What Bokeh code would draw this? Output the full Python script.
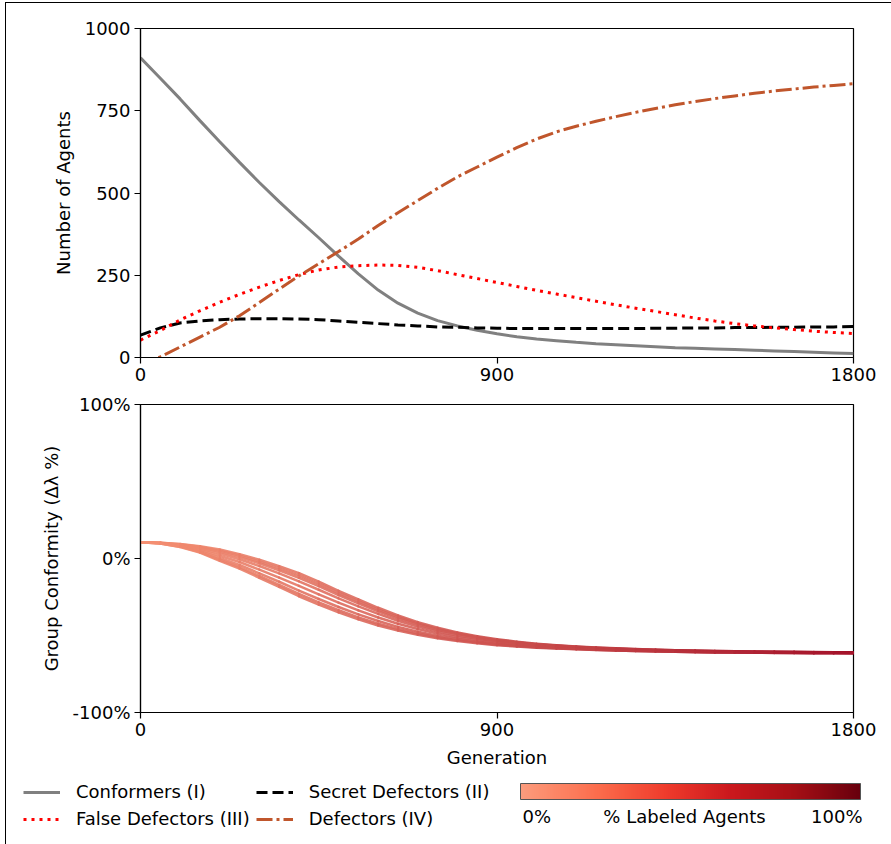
from bokeh.plotting import figure
from bokeh.layouts import column, row
from bokeh.models import (ColumnDataSource, FixedTicker, Range1d, Legend, LegendItem,
                          ColorBar, LinearColorMapper, Label)
from bokeh.palettes import Reds256
from bokeh.embed import file_html
from bokeh.resources import INLINE

# ---------------- data ----------------
generations = [0, 50, 100, 150, 200, 250, 300, 350, 400, 450, 500, 550, 600, 650,
               700, 750, 800, 850, 900, 950, 1000, 1050, 1100, 1150, 1200, 1250,
               1300, 1350, 1400, 1450, 1500, 1550, 1600, 1650, 1700, 1750, 1800]

conformers = [911, 849, 786, 720, 656, 593, 532, 474, 418, 364, 308, 254, 205, 165,
              135, 112, 96, 83, 72, 63, 56, 51, 46, 42, 39, 36,
              33, 30, 28, 26, 24, 22, 20, 18, 16, 14, 12]
secret_defectors = [68, 90, 105, 111, 115, 117, 118, 118, 117, 115, 111, 107, 103, 99,
                    96, 93, 92, 90, 89, 88, 88, 88, 88, 88, 88, 88,
                    89, 89, 90, 90, 91, 91, 92, 92, 93, 93, 94]
false_defectors = [53, 82, 114, 142, 168, 192, 214, 234, 252, 266, 275, 279, 281, 280,
                   274, 264, 252, 240, 228, 216, 204, 193, 182, 171, 160, 150,
                   140, 130, 120, 111, 103, 96, 90, 85, 80, 76, 73]
defectors = [-27, 2, 32, 62, 92, 127, 167, 208, 248, 285, 322, 360, 401, 440,
             477, 514, 549, 579, 609, 638, 664, 686, 703, 718, 732, 745,
             757, 768, 778, 787, 795, 803, 810, 816, 822, 827, 832]

# group conformity (%) of runs with increasing shares of labeled agents
conformity_run_1 = [10.5, 10.2, 9.4, 8.0, 5.8, 2.8, -0.8, -5.0, -9.5, -15.0, -21.0, -26.5,
                    -32.0, -37.0, -41.3, -45.0, -48.0, -50.5, -52.5, -54.0, -55.3, -56.3,
                    -57.1, -57.8, -58.3, -58.8, -59.2, -59.5, -59.8, -60.0, -60.2, -60.4,
                    -60.5, -60.6, -60.7, -60.8, -60.9]
conformity_run_2 = [10.5, 10.2, 9.2, 7.6, 5.1, 1.9, -2.0, -6.4, -11.0, -16.5, -22.4, -27.8,
                    -33.2, -38.0, -42.1, -45.7, -48.6, -51.0, -52.9, -54.3, -55.6, -56.5,
                    -57.3, -58.0, -58.5, -58.9, -59.3, -59.6, -59.9, -60.1, -60.3, -60.5,
                    -60.6, -60.7, -60.8, -60.9, -61.0]
conformity_run_3 = [10.5, 10.1, 9.0, 7.2, 4.3, 0.9, -3.1, -7.7, -12.5, -18.0, -23.8, -29.1,
                    -34.3, -39.0, -42.9, -46.4, -49.1, -51.4, -53.3, -54.6, -55.8, -56.7,
                    -57.5, -58.1, -58.6, -59.1, -59.4, -59.7, -60.0, -60.2, -60.4, -60.6,
                    -60.7, -60.8, -60.9, -60.9, -61.0]
conformity_run_4 = [10.5, 10.1, 8.7, 6.5, 3.2, -0.5, -4.9, -9.7, -14.8, -20.3, -25.9, -31.1,
                    -36.0, -40.4, -44.2, -47.4, -50.0, -52.1, -53.8, -55.1, -56.2, -57.1,
                    -57.8, -58.4, -58.8, -59.3, -59.6, -59.9, -60.2, -60.4, -60.5, -60.7,
                    -60.8, -60.9, -61.0, -61.1, -61.2]
conformity_run_5 = [10.5, 10.0, 8.4, 5.7, 1.8, -2.3, -7.2, -12.4, -17.8, -23.3, -28.7, -33.7,
                    -38.3, -42.4, -45.8, -48.7, -51.1, -53.0, -54.6, -55.8, -56.7, -57.5,
                    -58.2, -58.7, -59.1, -59.5, -59.9, -60.1, -60.4, -60.6, -60.7, -60.8,
                    -60.9, -61.0, -61.1, -61.2, -61.3]
conformity_run_6 = [10.5, 9.9, 8.0, 4.9, 0.3, -4.2, -9.6, -15.1, -20.8, -26.3, -31.5, -36.3,
                    -40.6, -44.4, -47.5, -50.1, -52.2, -54.0, -55.4, -56.4, -57.3, -58.0,
                    -58.5, -59.0, -59.4, -59.8, -60.1, -60.3, -60.6, -60.8, -60.9, -61.0,
                    -61.1, -61.2, -61.3, -61.3, -61.4]
conformity_run_7 = [10.5, 9.8, 7.7, 4.2, -0.8, -5.6, -11.3, -17.2, -23.0, -28.5, -33.6, -38.2,
                    -42.4, -45.8, -48.7, -51.1, -53.0, -54.6, -55.9, -56.9, -57.6, -58.3,
                    -58.8, -59.2, -59.7, -60.0, -60.3, -60.5, -60.7, -60.9, -61.0, -61.1,
                    -61.2, -61.3, -61.4, -61.4, -61.5]
conformity_run_8 = [10.5, 9.8, 7.5, 3.8, -1.5, -6.5, -12.5, -18.5, -24.5, -30.0, -35.0, -39.5,
                    -43.5, -46.8, -49.5, -51.8, -53.6, -55.1, -56.3, -57.2, -57.9, -58.5,
                    -59.0, -59.4, -59.8, -60.1, -60.4, -60.6, -60.8, -61.0, -61.1, -61.2,
                    -61.3, -61.4, -61.5, -61.5, -61.6]

conformity_runs = [conformity_run_1, conformity_run_2, conformity_run_3, conformity_run_4,
                   conformity_run_5, conformity_run_6, conformity_run_7, conformity_run_8]

x_ticks = [0, 900, 1800]
agent_ticks = [0, 250, 500, 750, 1000]
conformity_ticks = [-100, 0, 100]
conformity_tick_labels = {-100: "-100%", 0: "0%", 100: "100%"}
labeled_share_range = [0, 100]

# ---------------- style ----------------
FONT = "DejaVu Sans"
LIGHT_TO_DARK = list(reversed(Reds256))
GREY = "#808080"
ORANGE = "#c0562c"
LINE_START = (245, 145, 115)   # salmon at generation 0
LINE_END = (164, 18, 42)       # crimson at generation 1800


def style_axes(p):
    p.outline_line_color = "black"
    p.outline_line_width = 1.2
    p.grid.visible = False
    p.background_fill_color = "white"
    p.border_fill_color = "white"
    for ax in p.axis:
        ax.axis_line_color = "black"
        ax.axis_line_width = 1.2
        ax.major_tick_line_color = "black"
        ax.major_tick_line_width = 1.2
        ax.major_tick_out = 6
        ax.major_tick_in = 0
        ax.minor_tick_line_color = None
        ax.major_label_text_font = FONT
        ax.major_label_text_font_size = "18px"
        ax.major_label_text_color = "black"
        ax.major_label_standoff = 4
        ax.axis_label_text_font = FONT
        ax.axis_label_text_font_size = "18px"
        ax.axis_label_text_font_style = "normal"
        ax.axis_label_text_color = "black"
        ax.axis_label_standoff = 8


# ---------------- top panel ----------------
p1 = figure(frame_width=713, frame_height=329,
            x_range=Range1d(0, 1800), y_range=Range1d(0, 1000),
            min_border_left=134, min_border_right=38, min_border_top=25,
            min_border_bottom=30,
            output_backend="svg", toolbar_location=None)
style_axes(p1)
p1.xaxis.ticker = FixedTicker(ticks=x_ticks)
p1.yaxis.ticker = FixedTicker(ticks=agent_ticks)
p1.yaxis.axis_label = "Number of Agents"

src = ColumnDataSource(dict(g=generations, c=conformers, s=secret_defectors,
                            f=false_defectors, d=defectors))
p1.line("g", "c", source=src, line_color=GREY, line_width=3)
p1.line("g", "s", source=src, line_color="black", line_width=3, line_dash="11 5")
p1.line("g", "f", source=src, line_color="red", line_width=3, line_dash="3 5")
p1.line("g", "d", source=src, line_color=ORANGE, line_width=3, line_dash="16 4 3 4")

# ---------------- bottom panel ----------------
p2 = figure(frame_width=713, frame_height=308,
            x_range=Range1d(0, 1800), y_range=Range1d(-100, 100),
            min_border_left=134, min_border_right=38, min_border_top=17,
            min_border_bottom=55,
            output_backend="svg", toolbar_location=None)
style_axes(p2)
p2.xaxis.ticker = FixedTicker(ticks=x_ticks)
p2.yaxis.ticker = FixedTicker(ticks=conformity_ticks)
p2.yaxis.major_label_overrides = conformity_tick_labels
p2.yaxis.axis_label = "Group Conformity (Δλ %)"
p2.xaxis.axis_label = "Generation"


def grad_color(g):
    t = g / 1800.0
    rgb = [int(round(a + (b - a) * t)) for a, b in zip(LINE_START, LINE_END)]
    return "#%02x%02x%02x" % tuple(rgb)


seg = dict(x0=[], y0=[], x1=[], y1=[], color=[])
for run in conformity_runs:
    for i in range(len(generations) - 1):
        seg["x0"].append(generations[i])
        seg["y0"].append(run[i])
        seg["x1"].append(generations[i + 1])
        seg["y1"].append(run[i + 1])
        seg["color"].append(grad_color(0.5 * (generations[i] + generations[i + 1])))
p2.segment("x0", "y0", "x1", "y1", source=ColumnDataSource(seg), line_color="color",
           line_width=2.5, line_alpha=0.9, line_cap="round")

# ---------------- footer: legend + colour bar ----------------
p3 = figure(width=885, height=74, x_range=Range1d(0, 1), y_range=Range1d(0, 1),
            min_border=0, x_axis_location=None, y_axis_location=None,
            output_backend="svg", toolbar_location=None)
p3.grid.visible = False
p3.outline_line_color = None

hidden_x = [-2, -1]
hidden_y = [-2, -1]
r_c = p3.line(x=hidden_x, y=hidden_y, line_color=GREY, line_width=3)
r_s = p3.line(x=hidden_x, y=hidden_y, line_color="black", line_width=3, line_dash="11 5")
r_f = p3.line(x=hidden_x, y=hidden_y, line_color="red", line_width=3, line_dash="3 5")
r_d = p3.line(x=hidden_x, y=hidden_y, line_color=ORANGE, line_width=3, line_dash="16 4 3 4")

legend = Legend(items=[LegendItem(label="Conformers (I)", renderers=[r_c]),
                       LegendItem(label="False Defectors (III)", renderers=[r_f]),
                       LegendItem(label="Secret Defectors (II)", renderers=[r_s]),
                       LegendItem(label="Defectors (IV)", renderers=[r_d])],
                ncols=2, location=(17, 15), border_line_color=None,
                background_fill_alpha=0, padding=0, margin=0,
                glyph_width=37, glyph_height=20, label_height=20, spacing=6,
                label_standoff=16, label_text_font=FONT, label_text_font_size="18px",
                label_text_color="black")
p3.add_layout(legend)

mapper = LinearColorMapper(palette=LIGHT_TO_DARK[88:], low=labeled_share_range[0],
                           high=labeled_share_range[1])
cbar = ColorBar(color_mapper=mapper, orientation="horizontal", width=340, height=16,
                location=(514, 45), padding=0, margin=0, ticker=FixedTicker(ticks=[]),
                bar_line_color="#555555", bar_line_width=1,
                major_tick_line_color=None, background_fill_alpha=0,
                border_line_color=None)
p3.add_layout(cbar)

for txt, xpos, align in [("0%", 516, "left"), ("% Labeled Agents", 678, "center"),
                         ("100%", 856, "right")]:
    p3.add_layout(Label(x=xpos, y=28, x_units="screen", y_units="screen", text=txt,
                        text_align=align, text_baseline="middle", text_font=FONT,
                        text_font_size="18px", text_color="black"))

layout = column(p1, p2, row(p3), spacing=0,
                styles={"border-left": "1px solid black", "border-top": "1px solid black",
                        "margin-left": "5px", "margin-top": "2px"})

open("out.html", "w").write(file_html(layout, INLINE))
